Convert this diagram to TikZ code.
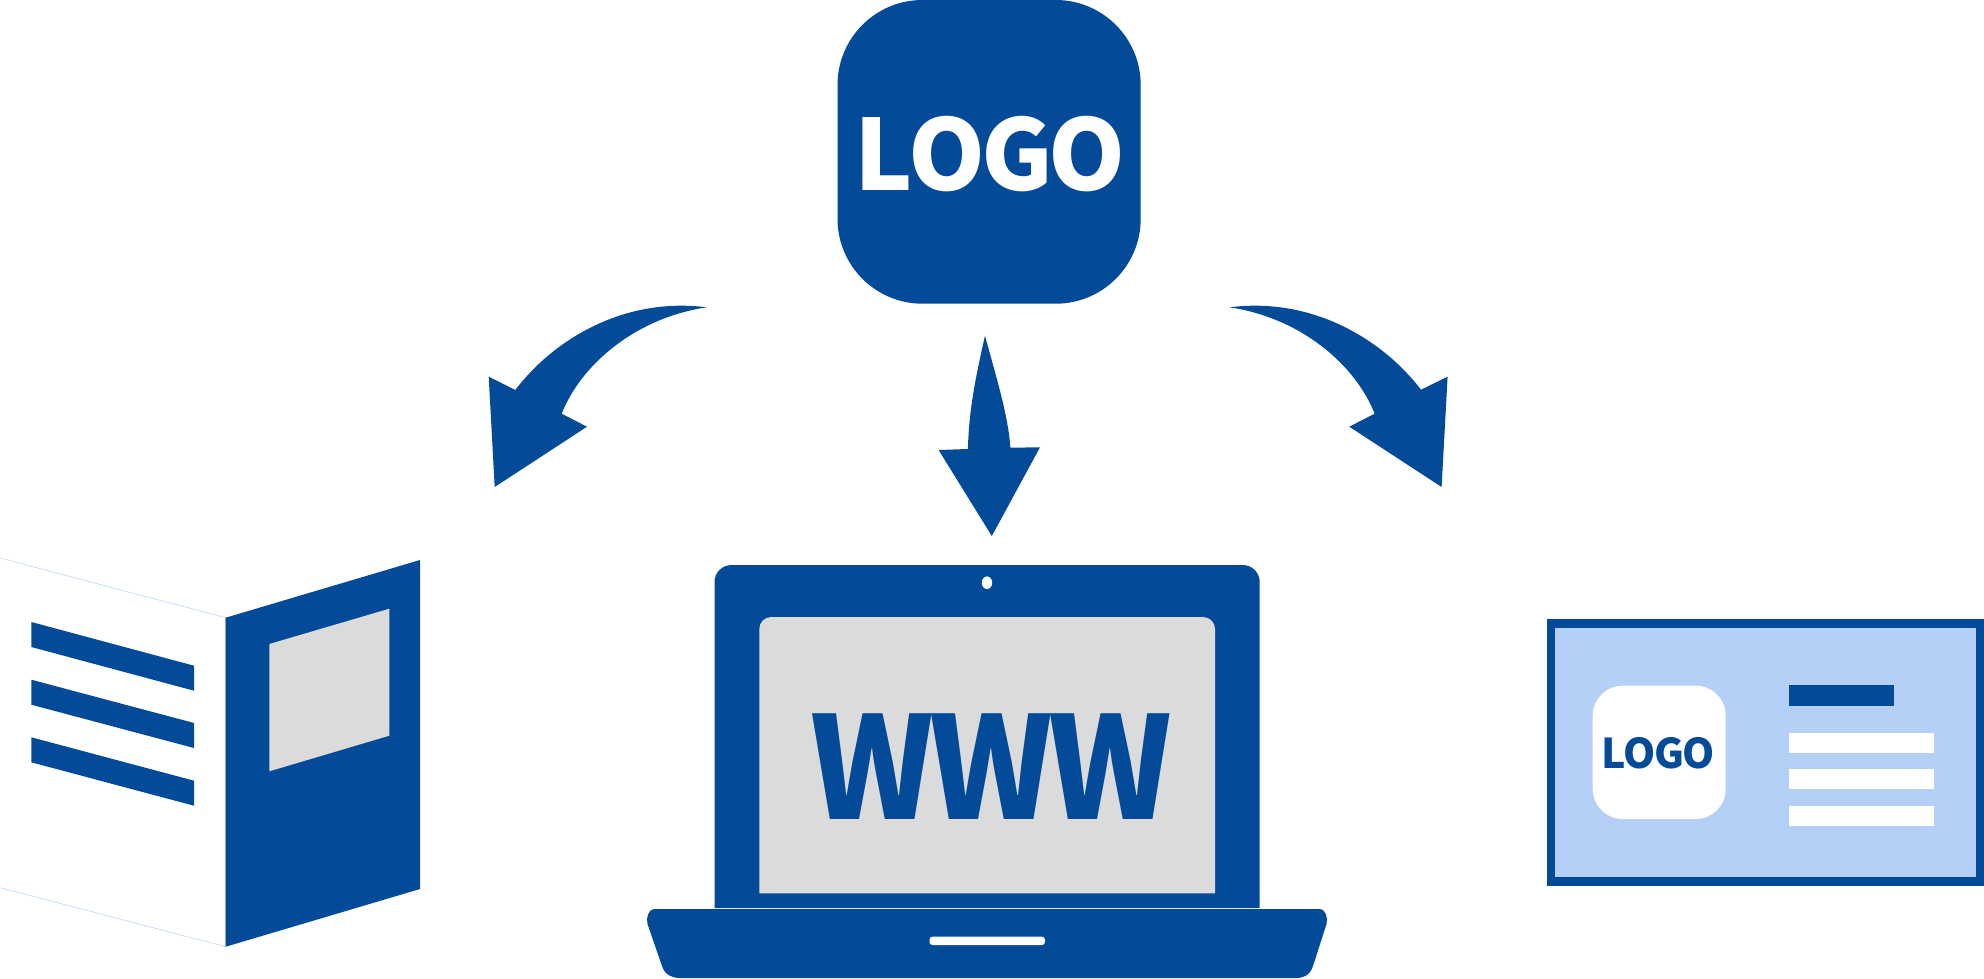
\documentclass[tikz,border=0pt]{standalone}
\usepackage{xcolor}
\usepackage{fontspec}
\usepackage{tikz}
\newfontfamily\logofont{Noto Sans CJK SC}
\definecolor{brandblue}{HTML}{034A99}
\definecolor{screengray}{HTML}{DBDBDB}
\definecolor{cardblue}{HTML}{B4D0F6}
\newcommand{\logosize}[1]{\logofont\bfseries\fontsize{#1}{#1}\selectfont}
\newcommand{\logoword}{L\kern-.05em O\kern-.039em G\kern-.056em O}
\tikzset{
    blueshape/.style={fill=brandblue, draw=none},
    grayshape/.style={fill=screengray, draw=none},
    whiteshape/.style={fill=white, draw=none},
    brandtext/.style={inner sep=0pt, anchor=base}
}

\begin{document}
\begin{tikzpicture}[x=1pt,y=-1pt]
        \useasboundingbox (0,0) rectangle (1984,979);

        % Logo tile at the top
        \fill[blueshape, rounded corners=85pt] (837.5,0) rectangle (1140.7,303.7);
        \node[brandtext, text=white] (toplogo) at (990,190) {\logosize{98}\logoword};

        % Curved arrows to left and right
        \fill[blueshape] (515.3,390) .. controls (553.3,340) and (623.3,296.7) .. (706.7,307.3)
            .. controls (633.3,318.3) and (580,366.7) .. (561.7,413.7)
            -- (587,426.7) -- (494.7,487) -- (488.7,376.7) -- cycle;
        \fill[blueshape] (1421,389.7) .. controls (1383,340) and (1313,296.7) .. (1229.6,307.3)
            .. controls (1303,318.3) and (1356.3,366.7) .. (1374.6,413.7)
            -- (1349.3,426.7) -- (1441.6,487) -- (1447.6,376.7) -- cycle;

        % Straight arrow in the middle
        \fill[blueshape] (967.9,449) .. controls (969,410) and (975,380) .. (985,335.7)
            .. controls (997,380) and (1008,415) .. (1010.4,447.7)
            -- (1040,447.3) -- (991.8,536) -- (938.6,450) -- cycle;

        % Folder, left page
        \draw[cardblue, line width=0.5pt, fill=white] (0,558) -- (225.7,617.7) -- (225.7,946.7) -- (0,887.7);
        \foreach \topleft/\topright in {622/665.7, 679.7/723, 737.3/780.7}
            \fill[blueshape] (31.3,\topleft) -- (194,\topright) -- (194,\topright+25) -- (31.3,\topleft+25) -- cycle;

        % Folder, right page
        \fill[blueshape] (225.7,617.7) -- (420,560) -- (420,889) -- (225.7,946.7) -- cycle;
        \fill[grayshape] (269.3,644) -- (389.3,608.7) -- (389.3,735.7) -- (269.3,771.3) -- cycle;

        % Laptop screen
        \fill[blueshape] (714.5,908) [rounded corners=17pt] -- (714.5,565) -- (1259.7,565) [sharp corners] -- (1259.7,908) -- cycle;
        \fill[grayshape] (759.3,893.3) [rounded corners=12pt] -- (759.3,617) -- (1215,617) [sharp corners] -- (1215,893.3) -- cycle;
        \fill[whiteshape] (987,582.7) ellipse (5.2 and 6.3);
        \node[brandtext, text=brandblue] (wwwtext) at (991.2,819.7) {\logosize{142}\scalebox{0.93}[1]{W\kern-.033em W\kern-.033em W}};

        % Laptop base
        \fill[blueshape] (655,909) -- (1319,909)
            .. controls (1326,909) and (1328,918) .. (1326.5,924)
            -- (1313,966) .. controls (1310,975) and (1304,978) .. (1296,978)
            -- (680,978) .. controls (672,978) and (665,975) .. (662,966)
            -- (647.5,924) .. controls (646,918) and (648,909) .. (655,909) -- cycle;
        \fill[whiteshape, rounded corners=3pt] (929.5,936.7) rectangle (1045,945);

        % Business card
        \fill[blueshape] (1547,619.3) rectangle (1984,885.7);
        \fill[cardblue] (1554.7,627.5) rectangle (1975.7,877.3);
        \fill[whiteshape, rounded corners=30pt] (1592.7,685.7) rectangle (1725.7,819);
        \node[brandtext, text=brandblue] (cardlogo) at (1657.7,768.3) {\logosize{41}\logoword};
        \fill[blueshape] (1788.8,685) rectangle (1894,705.7);
        \foreach \bartop in {732.7, 769.3, 806}
            \fill[whiteshape] (1788.8,\bartop) rectangle (1934,\bartop+20);
    \end{tikzpicture}
\end{document}
